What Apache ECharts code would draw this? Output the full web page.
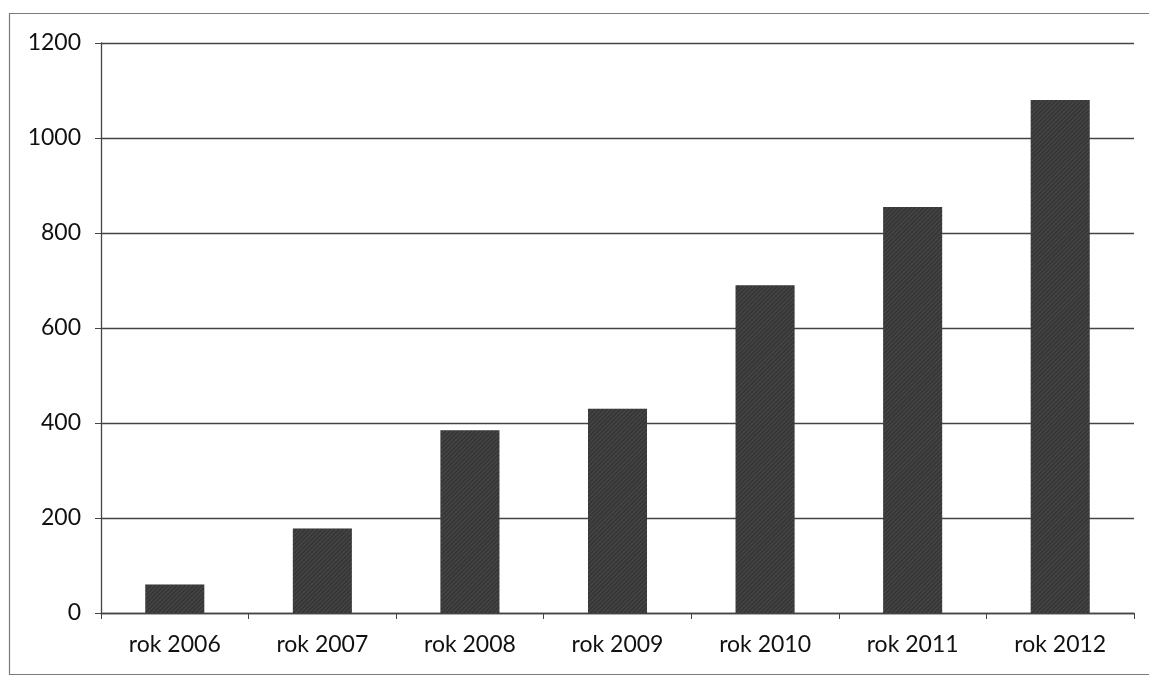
<!DOCTYPE html>
<html>
<head>
<meta charset="utf-8">
<script src="https://cdn.jsdelivr.net/npm/echarts@6/dist/echarts.min.js"></script>
<style>
  html, body { margin: 0; padding: 0; background: #ffffff; }
  #chart { width: 1149px; height: 676px; }
</style>
</head>
<body>
<div id="chart"></div>
<script>
// Yearly totals, 2006–2012
const categories = ['rok 2006', 'rok 2007', 'rok 2008', 'rok 2009', 'rok 2010', 'rok 2011', 'rok 2012'];
const values = [60, 178, 385, 430, 690, 855, 1080];
const yTicks = { min: 0, max: 1200, interval: 200 };

const chart = echarts.init(document.getElementById('chart'), null, { renderer: 'canvas' });
const labelFont = { fontFamily: 'Lato, "Open Sans", sans-serif', fontSize: 23, color: '#111111' };

chart.setOption({
  backgroundColor: '#ffffff',
  animation: false,
  graphic: [{
    type: 'rect',
    shape: { x: 9.5, y: 13.5, width: 1150, height: 661 },
    style: { fill: 'none', stroke: '#7a7a7a', lineWidth: 1.2 },
    silent: true
  }],
  grid: { left: 101, right: 15, top: 43, bottom: 63, containLabel: false },
  xAxis: {
    type: 'category',
    data: categories,
    axisLine: { show: true, lineStyle: { color: '#444444', width: 1.3 } },
    axisTick: { show: true, alignWithLabel: false, length: 6, inside: false, lineStyle: { color: '#444444' } },
    axisLabel: Object.assign({ margin: 20 }, labelFont),
    splitLine: { show: false }
  },
  yAxis: {
    type: 'value',
    min: yTicks.min,
    max: yTicks.max,
    interval: yTicks.interval,
    axisLine: { show: true, lineStyle: { color: '#444444', width: 1.3 } },
    axisTick: { show: true, length: 6, lineStyle: { color: '#444444' } },
    axisLabel: Object.assign({ margin: 20, formatter: v => String(v) }, labelFont),
    splitLine: { show: true, lineStyle: { color: '#444444', width: 1.3 } }
  },
  series: [{
    type: 'bar',
    data: values,
    barCategoryGap: '60%',
    itemStyle: {
      color: '#363636',
      decal: {
        symbol: 'rect',
        dashArrayX: [1, 0],
        dashArrayY: [1, 2],
        rotation: -Math.PI / 4,
        color: 'rgba(110,110,110,0.35)'
      }
    }
  }]
});
</script>
</body>
</html>
